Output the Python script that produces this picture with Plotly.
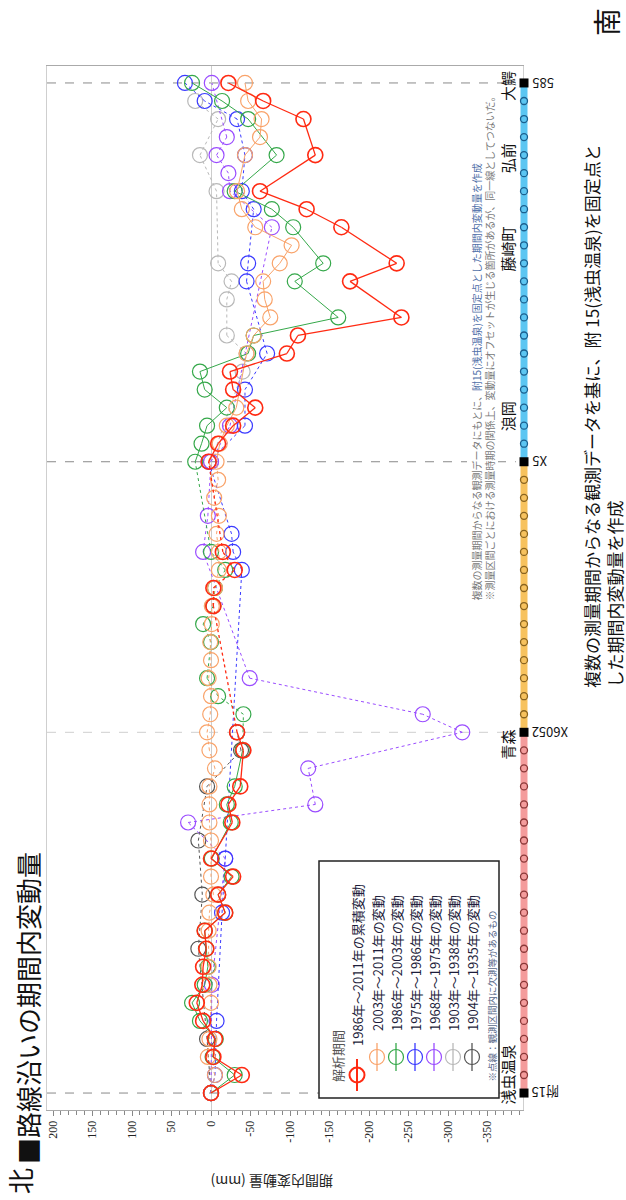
import plotly.graph_objects as go

W, H = 626, 1200

# Benchmarks along the line: index 0 = 附15 (fixed point) ... index 56 = 585
n_bm = 57
bm_index = list(range(n_bm))

# Marked benchmarks (section ends) and their codes
bm_marks = [0, 20, 35, 56]
bm_codes = ["附15", "X6052", "X5", "585"]

# Station names and their position along the benchmark index
station_names = ["浅虫温泉", "青森", "浪岡", "藤崎町", "弘前", "大鰐"]
station_at = [1.0, 19.3, 37.5, 46.8, 51.8, 55.8]

series_labels = [
    "1986年～2011年の累積変動",
    "2003年～2011年の変動",
    "1986年～2003年の変動",
    "1975年～1986年の変動",
    "1968年～1975年の変動",
    "1903年～1938年の変動",
    "1904年～1935年の変動",
]

# Change in height (mm) at each benchmark; None = not surveyed
red_1986_2011 = [0, -39, -3, -5, 10, 18, 11, 10, 6, 8,
                 -18, -9, -28, 0, None, -27, -22, -37, None, -41,
                 -33, None, None, None, None, None, None, -3, -3, -30,
                 -15, None, None, None, None, 3, -9, -28, -56, -28,
                 -24, -96, -110, -241, None, -176, -235, None, -165, -121,
                 -62, None, -132, None, -117, -66, -22]

orange_2003_2011 = [0, -5, 4, 2, None, 0, 2, 3, None, 3,
                    2, -3, 0, None, 0, 2, 2, 2, -5, 2,
                    5, 1, 0, 3, 0, 1, -1, -1, -5, -10,
                    -10, -7, -10, -4, -9, -7, -11, -20, -32, None,
                    None, -45, -54, -75, -68, -66, -87, -102, -56, -39,
                    -33, None, -43, -62, -64, -47, -43]

green_1986_2003 = [0, -30, -2, -6, 14, 24, 8, 4, 6, 8,
                   -18, -9, -26, -1, None, -25, -20, -30, None, -40,
                   None, -41, -9, 5, None, 0, 10, -3, -5, -18,
                   0, None, None, None, None, 20, 12, 5, -20, 8,
                   14, -47, -54, -161, None, -106, -142, None, -104, -77,
                   -30, None, -83, None, -47, -14, 24]

blue_1975_1986 = [0, -5, None, None, -7, None, None, None, None, None,
                  -14, None, None, -18, None, None, None, None, None, None,
                  None, None, None, None, None, None, None, None, None, -39,
                  -28, -26, None, None, None, 3, None, -43, None, -43,
                  None, -71, None, None, None, -45, -47, None, None, -54,
                  -39, None, -43, None, -33, 8, 33]

purple_1968_1975 = [0, None, None, None, None, None, -1, None, None, None,
                    None, None, None, -18, None, 29, -132, None, -123, None,
                    -318, -268, None, -49, None, None, None, None, None, None,
                    10, None, 4, None, None, 0, None, -24, None, None,
                    None, None, None, None, None, None, None, None, -77, None,
                    -24, -22, -7, -20, None, None, -1]

gray_1903_1938 = [None, None, None, None, None, None, None, None, None, None,
                  None, None, None, None, None, None, None, None, None, None,
                  None, None, None, None, None, None, None, None, None, None,
                  None, None, None, None, None, 0, None, None, None, None,
                  -40, -45, -20, None, -20, -26, -9, None, None, None,
                  -7, None, 14, None, -9, 20, None]

black_1904_1935 = [0, None, None, 5, None, None, None, None, 16, None,
                   None, 11, None, None, 16, None, None, 5, None, -38,
                   -33, None, None, None, None, None, None, None, None, None,
                   None, None, None, None, None, None, None, None, None, None,
                   None, None, None, None, None, None, None, None, None, None,
                   None, None, None, None, None, None, None]

series_values = [red_1986_2011, orange_2003_2011, green_1986_2003,
                 blue_1975_1986, purple_1968_1975, gray_1903_1938, black_1904_1935]
series_colors = ["#ff2a12", "#f9a36a", "#35a84a", "#3a3aff", "#9a4cff", "#b8b8b8", "#555555"]
# line style per section: (附15–X6052, X6052–X5, X5–585)
series_dash = [("solid", "dot", "solid"), ("dot", "dot", "solid"), ("solid", "dot", "solid"),
               ("dot", "dot", "dot"), ("dot", "dot", "dot"), ("dot", "dot", "dot"), ("dot", "dot", "dot")]
series_width = [1.3, 1.0, 1.0, 1.0, 1.0, 1.0, 1.0]

tick_vals = [200, 150, 100, 50, 0, -50, -100, -150, -200, -250, -300, -350]
tick_text = [str(v) for v in tick_vals]

strip_colors = ["#f49c9c", "#f7c25e", "#5cc6f2"]
strip_dots = ["#8a3838", "#8a6420", "#1b5f8e"]

JP = "Noto Sans CJK JP"


def px(x):
    return x / W


def py(y):
    return 1 - y / H


def section_of(pos):
    if pos < bm_marks[1]:
        return 0
    if pos < bm_marks[2]:
        return 1
    return 2


fig = go.Figure()

# data series, drawn back to front
for k in reversed(range(len(series_values))):
    vals = series_values[k]
    pts = [(i, v) for i, v in zip(bm_index, vals) if v is not None]
    groups = {}
    for (i0, v0), (i1, v1) in zip(pts[:-1], pts[1:]):
        d = series_dash[k][section_of((i0 + i1) / 2)]
        xs, ys = groups.setdefault(d, ([], []))
        xs += [v0, v1, None]
        ys += [i0, i1, None]
    for d, (xs, ys) in groups.items():
        fig.add_trace(go.Scatter(x=xs, y=ys, mode="lines", showlegend=False,
                                 line=dict(color=series_colors[k], width=series_width[k], dash=d),
                                 hoverinfo="skip"))
    fig.add_trace(go.Scatter(
        x=[v for _, v in pts], y=[i for i, _ in pts], mode="markers", showlegend=False,
        marker=dict(symbol="circle-open", size=15, color=series_colors[k],
                    line=dict(width=1.6 if k == 0 else 1.2)),
        name=series_labels[k]))

# railway strip on its own narrow axis
sec_ranges = [(bm_marks[0], bm_marks[1]), (bm_marks[1], bm_marks[2]), (bm_marks[2], bm_marks[3])]
for s, (a, b) in enumerate(sec_ranges):
    fig.add_trace(go.Scatter(x=[0, 0], y=[a, b], xaxis="x2", yaxis="y", mode="lines",
                             line=dict(color=strip_colors[s], width=7), showlegend=False,
                             hoverinfo="skip"))
for s, (a, b) in enumerate(sec_ranges):
    ys = [i for i in bm_index if a < i < b]
    fig.add_trace(go.Scatter(x=[0] * len(ys), y=ys, xaxis="x2", yaxis="y", mode="markers",
                             marker=dict(symbol="circle", size=7, color=strip_colors[s],
                                         line=dict(color=strip_dots[s], width=1.3)),
                             showlegend=False, hoverinfo="skip"))
fig.add_trace(go.Scatter(x=[0] * len(bm_marks), y=bm_marks, xaxis="x2", yaxis="y", mode="markers",
                         marker=dict(symbol="square", size=9, color="black"),
                         showlegend=False, hoverinfo="skip"))

shapes = []
# dashed section lines
for m in bm_marks:
    shapes.append(dict(type="line", xref="x domain", yref="y", x0=0, x1=0.985, y0=m, y1=m,
                       line=dict(color="#cfcfcf" if m == bm_marks[1] else "#8a8a8a",
                                 width=1, dash="dash"), layer="below"))

annotations = []
for name, pos in zip(station_names, station_at):
    annotations.append(dict(xref="x2", yref="y", x=0, y=pos, text=name, showarrow=False,
                            textangle=-90, xanchor="right", yanchor="middle", xshift=-4,
                            font=dict(family=JP, size=15, color="#111")))
for code, pos in zip(bm_codes, bm_marks):
    annotations.append(dict(xref="x2", yref="y", x=0, y=pos, text=code, showarrow=False,
                            textangle=180, xanchor="left", yanchor="middle", xshift=6,
                            font=dict(family=JP, size=13, color="#111")))

# explanatory note inside the plot
annotations.append(dict(
    xref="paper", yref="paper", x=px(483), y=py(603), xanchor="center", yanchor="bottom",
    textangle=-90, align="left", showarrow=False, bgcolor="white",
    text=("複数の測量期間からなる観測データにもとに、"
          "<span style='color:#4f6fa8'>附15(浅虫温泉)を固定点とした期間内変動量を作成</span><br>"
          "※測量区間ごとにおける測量時期の関係上、変動量にオフセットが生じる箇所があるが、同一線としてつないだ。"),
    font=dict(family=JP, size=10, color="#7a7a7a")))

# title, axis title, compass marks, bottom note
annotations += [
    dict(xref="paper", yref="paper", x=px(27), y=py(1166), xanchor="center", yanchor="bottom",
         textangle=-90, showarrow=False, text="■路線沿いの期間内変動量",
         font=dict(family=JP, size=26, color="#111")),
    dict(xref="paper", yref="paper", x=px(272), y=py(1182), xanchor="center", yanchor="middle",
         textangle=180, showarrow=False, text="期間内変動量 (mm)",
         font=dict(family=JP, size=14, color="#222")),
    dict(xref="paper", yref="paper", x=px(19), y=py(1196), xanchor="center", yanchor="bottom",
         textangle=-90, showarrow=False, text="北", font=dict(family=JP, size=26, color="#111")),
    dict(xref="paper", yref="paper", x=px(606), y=py(6), xanchor="center", yanchor="top",
         textangle=-90, showarrow=False, text="南", font=dict(family=JP, size=28, color="#111")),
    dict(xref="paper", yref="paper", x=px(591), y=py(690), xanchor="center", yanchor="bottom",
         textangle=-90, showarrow=False,
         text="複数の測量期間からなる観測データを基に、附 15(浅虫温泉)を固定点と",
         font=dict(family=JP, size=17, color="#111")),
    dict(xref="paper", yref="paper", x=px(614), y=py(690), xanchor="center", yanchor="bottom",
         textangle=-90, showarrow=False, text="した期間内変動量を作成",
         font=dict(family=JP, size=17, color="#111")),
]

# legend, drawn rotated like the rest of the sheet
shapes.append(dict(type="rect", xref="paper", yref="paper", x0=px(319), x1=px(499),
                   y0=py(1098), y1=py(861), line=dict(color="#222", width=1.5),
                   fillcolor="white", layer="above"))
annotations.append(dict(xref="paper", yref="paper", x=px(337), y=py(1084), xanchor="center",
                        yanchor="bottom", textangle=-90, showarrow=False, text="解析期間",
                        font=dict(family=JP, size=13, color="#555")))
leg_x = [357, 377, 396, 415, 434, 453, 472]
for k, lx in enumerate(leg_x):
    my = 1075 if k == 0 else 1057
    ty = 1048 if k == 0 else 1033
    half = 16 if k == 0 else 14
    shapes.append(dict(type="line", xref="paper", yref="paper", x0=px(lx), x1=px(lx),
                       y0=py(my + half), y1=py(my - half),
                       line=dict(color=series_colors[k], width=2 if k == 0 else 1.3), layer="above"))
    shapes.append(dict(type="circle", xref="paper", yref="paper", x0=px(lx - 7.5), x1=px(lx + 7.5),
                       y0=py(my + 7.5), y1=py(my - 7.5),
                       line=dict(color=series_colors[k], width=2 if k == 0 else 1.2), layer="above"))
    annotations.append(dict(xref="paper", yref="paper", x=px(lx), y=py(ty), xanchor="center",
                            yanchor="bottom", textangle=-90, showarrow=False, text=series_labels[k],
                            font=dict(family=JP, size=13, color="#1e1e3c")))
annotations.append(dict(xref="paper", yref="paper", x=px(491), y=py(1084), xanchor="center",
                        yanchor="bottom", textangle=-90, showarrow=False,
                        text="※点線：観測区間内に欠測等があるもの",
                        font=dict(family=JP, size=9.5, color="#5a6a8a")))

fig.update_layout(
    width=W, height=H, margin=dict(l=0, r=0, t=0, b=0),
    paper_bgcolor="white", plot_bgcolor="rgba(0,0,0,0)",
    showlegend=False,
    xaxis=dict(domain=[px(47), px(523)], range=[207.6, -394.9], tickvals=tick_vals,
               ticktext=tick_text, tickangle=-90, ticks="outside", ticklen=5, tickcolor="#888",
               minor=dict(dtick=10, ticks="outside", ticklen=4, tickcolor="#888"),
               showgrid=False, zeroline=True, zerolinecolor="#cccccc", zerolinewidth=1,
               showline=True, linecolor="#aaaaaa", mirror=True,
               tickfont=dict(family="Liberation Serif", size=12, color="#222")),
    yaxis=dict(domain=[py(1110), py(66)], range=[-0.94, 56.94], showticklabels=False,
               showgrid=False, zeroline=False, showline=True, linecolor="#cfcfcf", mirror=True,
               ticks=""),
    xaxis2=dict(domain=[px(514), px(534)], range=[-1, 1], anchor="y", visible=False,
                showgrid=False, zeroline=False),
    shapes=shapes, annotations=annotations,
)

fig.write_html("out.html")
